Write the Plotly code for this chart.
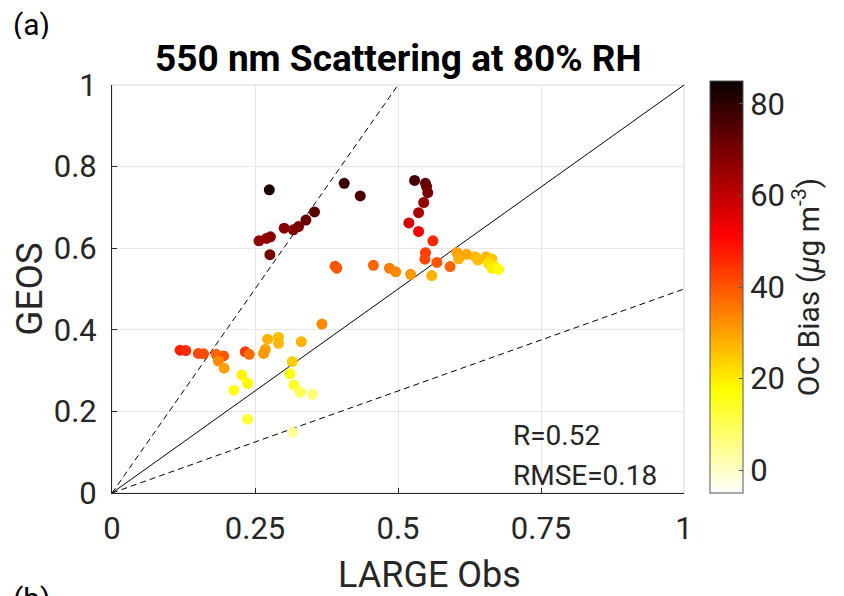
import plotly.graph_objects as go

# LARGE observations (x), GEOS (y), OC bias (colour)
obs = [0.275, 0.406, 0.434, 0.354, 0.339, 0.326, 0.317, 0.301, 0.277, 0.270, 0.257, 0.276,
       0.529, 0.548, 0.550, 0.552, 0.545, 0.536, 0.519, 0.536, 0.561, 0.548, 0.547, 0.568, 0.591,
       0.390, 0.393, 0.457, 0.485, 0.496, 0.522, 0.559,
       0.603, 0.606, 0.620, 0.635, 0.640, 0.654, 0.664, 0.658, 0.668, 0.664, 0.676,
       0.119, 0.129, 0.151, 0.160, 0.182, 0.195, 0.186, 0.196, 0.233, 0.240, 0.268, 0.265,
       0.272, 0.291, 0.291, 0.331, 0.367, 0.315,
       0.227, 0.237, 0.213, 0.311, 0.318, 0.329, 0.350, 0.237, 0.316]
geos = [0.743, 0.759, 0.728, 0.689, 0.669, 0.653, 0.645, 0.649, 0.628, 0.624, 0.618, 0.584,
        0.766, 0.759, 0.751, 0.736, 0.712, 0.687, 0.662, 0.641, 0.618, 0.589, 0.573, 0.565, 0.555,
        0.556, 0.551, 0.558, 0.551, 0.542, 0.536, 0.533,
        0.589, 0.574, 0.585, 0.579, 0.571, 0.579, 0.574, 0.563, 0.556, 0.551, 0.548,
        0.350, 0.349, 0.342, 0.341, 0.340, 0.336, 0.324, 0.306, 0.346, 0.340, 0.352, 0.342,
        0.377, 0.382, 0.367, 0.371, 0.414, 0.322,
        0.289, 0.269, 0.252, 0.292, 0.265, 0.247, 0.242, 0.181, 0.149]
oc_bias = [83, 78, 76, 74, 72, 70, 69, 68, 68, 67, 67, 70,
           77, 74, 72, 70, 66, 63, 57, 53, 46, 43, 42, 40, 38,
           40, 40, 38, 35, 33, 31, 28,
           30, 28, 29, 27, 26, 27, 25, 22, 21, 20, 18,
           47, 46, 42, 41, 38, 40, 33, 30, 44, 37, 30, 31,
           28, 26, 27, 28, 33, 24,
           19, 18, 16, 17, 14, 10, 7, 13, 4]

x_ticks = [0, 0.25, 0.5, 0.75, 1]
x_tick_labels = ["0", "0.25", "0.5", "0.75", "1"]
y_ticks = [0, 0.2, 0.4, 0.6, 0.8, 1]
y_tick_labels = ["0", "0.2", "0.4", "0.6", "0.8", "1"]
cbar_ticks = [0, 20, 40, 60, 80]

# reversed MATLAB "hot"
hot_r = [[0.0, "rgb(255,255,255)"], [0.25, "rgb(255,255,0)"],
         [0.625, "rgb(255,0,0)"], [1.0, "rgb(10,0,0)"]]

font = "Roboto"
txt = "#262626"

# page body has an 8px margin: shift everything up/left by 8px
L, T = 104, 77           # plot-area left / top in page pixels
PW, PH = 572, 408        # plot-area size
W, H = 836, 588


def px_x(p):
    return (p - 8 - L) / PW


def px_y(p):
    return (T + PH - (p - 8)) / PH


fig = go.Figure()
# reference lines 1:1, 2:1, 1:2
fig.add_trace(go.Scatter(x=[0, 1], y=[0, 1], mode="lines",
                         line=dict(color="black", width=1), showlegend=False, hoverinfo="skip"))
fig.add_trace(go.Scatter(x=[0, 0.5], y=[0, 1], mode="lines",
                         line=dict(color="black", width=1, dash="6px,4px"), showlegend=False, hoverinfo="skip"))
fig.add_trace(go.Scatter(x=[0, 1], y=[0, 0.5], mode="lines",
                         line=dict(color="black", width=1, dash="6px,4px"), showlegend=False, hoverinfo="skip"))
fig.add_trace(go.Scatter(
    x=obs, y=geos, mode="markers", showlegend=False,
    marker=dict(size=11, color=oc_bias, colorscale=hot_r, cmin=-5, cmax=85,
                line=dict(width=0),
                colorbar=dict(
                    x=px_x(710), xanchor="left", xref="paper", xpad=0, ypad=0,
                    y=0, yanchor="bottom", len=412 / 408, lenmode="fraction",
                    thickness=33, outlinewidth=1, outlinecolor="#555555",
                    tickvals=cbar_ticks, ticks="inside", ticklen=4, tickcolor="#555555",
                    tickfont=dict(family=font, size=31, color=txt),
                    title=dict(text="OC Bias (<i>μ</i>g m<sup>-3</sup>)", side="right",
                               font=dict(family=font, size=30, color=txt)),
                )),
))

fig.add_shape(type="rect", xref="paper", yref="paper", x0=0, y0=0, x1=1, y1=1,
              line=dict(color="#d9d9d9", width=1), layer="below")

fig.update_layout(
    width=W, height=H,
    margin=dict(l=L, r=W - L - PW, t=T, b=H - T - PH, autoexpand=False),
    plot_bgcolor="white", paper_bgcolor="white",
    font=dict(family=font, color=txt),
    xaxis=dict(range=[0, 1], tickvals=x_ticks, ticktext=x_tick_labels,
               showgrid=True, gridcolor="#e6e6e6", gridwidth=1, zeroline=False,
               showline=True, linecolor="#262626", linewidth=1,
               ticks="inside", ticklen=5, tickcolor="#262626", ticklabelstandoff=8,
               tickfont=dict(family=font, size=31, color=txt)),
    yaxis=dict(range=[0, 1], tickvals=y_ticks, ticktext=y_tick_labels,
               showgrid=True, gridcolor="#e6e6e6", gridwidth=1, zeroline=False,
               showline=True, linecolor="#262626", linewidth=1,
               ticks="inside", ticklen=5, tickcolor="#262626", ticklabelstandoff=8,
               tickfont=dict(family=font, size=31, color=txt),
               title=dict(text="GEOS", font=dict(family=font, size=37, color=txt), standoff=12)),
    annotations=[
        dict(text="<b>550 nm Scattering at 80% RH</b>", xref="paper", yref="paper",
             x=px_x(398), y=px_y(58), xanchor="center", yanchor="middle", showarrow=False,
             font=dict(family=font, size=37, color="black")),
        dict(text="LARGE Obs", xref="paper", yref="paper", height=34,
             x=px_x(429), y=px_y(575), xanchor="center", yanchor="middle", showarrow=False,
             font=dict(family=font, size=36, color=txt)),
        dict(text="(a)", xref="paper", yref="paper", x=px_x(11), y=px_y(24), height=30,
             xanchor="left", yanchor="middle", showarrow=False,
             font=dict(family=font, size=30, color="black")),
        dict(text="(b)", xref="paper", yref="paper", x=px_x(11), y=px_y(598),
             xanchor="left", yanchor="middle", showarrow=False,
             font=dict(family=font, size=30, color="black")),
        dict(text="R=0.52", xref="paper", yref="paper", x=px_x(511), y=px_y(435),
             xanchor="left", yanchor="middle", showarrow=False,
             font=dict(family=font, size=28, color=txt)),
        dict(text="RMSE=0.18", xref="paper", yref="paper", x=px_x(511), y=px_y(475),
             xanchor="left", yanchor="middle", showarrow=False,
             font=dict(family=font, size=28, color=txt)),
    ],
)

fig.write_html("out.html")
